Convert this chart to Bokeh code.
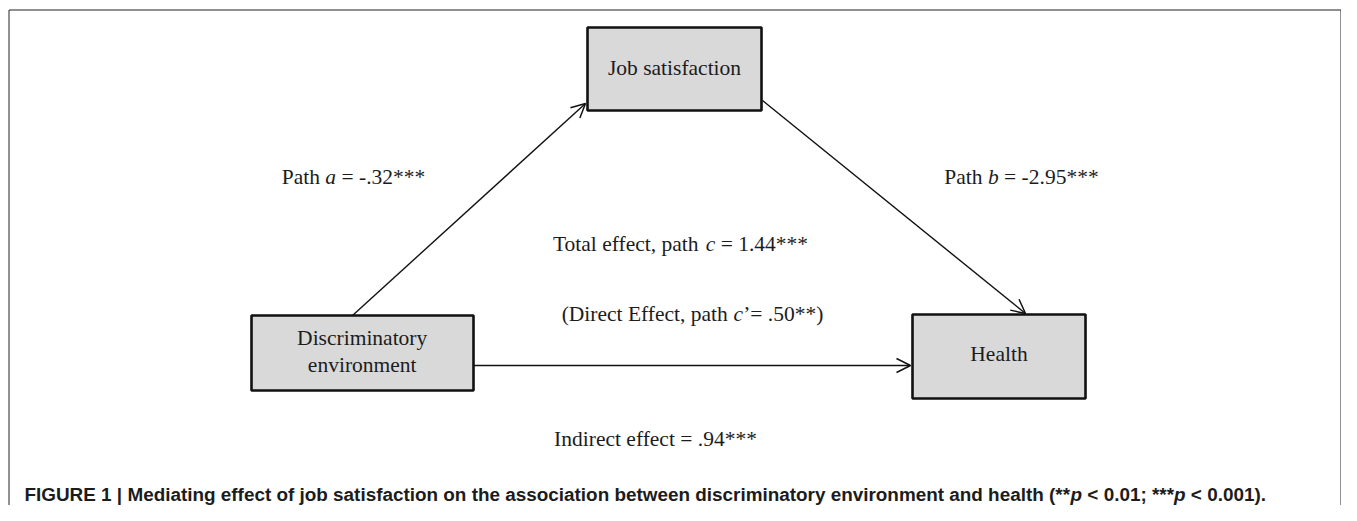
from bokeh.plotting import figure
from bokeh.models import Range1d, Arrow, OpenHead
from bokeh.core.properties import value
from bokeh.embed import file_html
from bokeh.resources import INLINE

# ---------------- data ----------------
node_names = ["Discriminatory environment", "Job satisfaction", "Health"]
node_lines = [["Discriminatory", "environment"], ["Job satisfaction"], ["Health"]]
path_names = ["a", "b", "c", "c"]
path_prefix = ["Path ", "Path ", "Total effect, path ", "(Direct Effect, path "]
path_coefs = [-0.32, -2.95, 1.44, 0.50]
path_stars = ["***", "***", "***", "**"]
indirect_coef = 0.94
indirect_stars = "***"
caption_parts = ["FIGURE 1 | Mediating effect of job satisfaction on the association between discriminatory environment and health (**",
                 "p", " < 0.01; ***", "p", " < 0.001)."]
caption_italic = [False, True, False, True, False]

# ---------------- layout (pixel space of the picture) ----------------
W, H = 1341, 505
TEXT_DY = -8  # renderer places the alphabetic baseline this much lower
box_left = [251, 587, 912]
box_right = [473, 761, 1085]
box_top = [315, 27, 314]
box_bottom = [390, 110, 398]
node_cx = [361.7, 674, 998.5]
node_base = [[345, 372.5], [75], [361]]
arrow_from = [(352, 315), (762, 100), (473, 365)]
arrow_to = [(585, 103), (1025, 313), (910, 365)]
label_cx = [353, 1021, 680, 692]
label_base = [184, 184, 251, 321.5]
indirect_cx, indirect_base = 655, 446.5
caption_x, caption_base = 24, 501.5

SERIF = "Liberation Serif"
SANS = "Liberation Sans"
SERIF_SIZE = 21.5
CAP_SIZE = 18.9
INK = "#1c1c1c"
NB = "\u00a0"

# advance widths (units per 1000 em) for the metric-compatible Liberation fonts
serif_w = {' ': 250, NB: 250, '(': 333, ')': 333, '*': 500, ',': 250, '-': 333, '.': 250, '\u2019': 333,
           '=': 564, 'D': 722, 'E': 611, 'P': 556, 'T': 611, 'I': 333, 'a': 444, 'b': 500,
           'c': 444, 'd': 500, 'e': 444, 'f': 333, 'h': 500, 'i': 278, 'n': 500, 'r': 333,
           't': 278, 'l': 278, 'o': 500, 'p': 500, 'u': 500, 's': 389}
serif_w.update({str(d): 500 for d in range(10)})
serif_iw = {'a': 500, 'b': 500, 'c': 444}
sans_bw = {' ': 278, NB: 278, '(': 333, ')': 333, '*': 389, '.': 278, ';': 333, '<': 584, '|': 280,
           'F': 611, 'I': 278, 'G': 778, 'U': 722, 'R': 722, 'E': 667, 'M': 833, 'a': 556,
           'b': 611, 'c': 556, 'd': 611, 'e': 556, 'f': 333, 'g': 611, 'h': 611, 'i': 278,
           'j': 278, 'l': 278, 'm': 889, 'n': 611, 'o': 611, 'p': 611, 'r': 389, 's': 556,
           't': 333, 'v': 556, 'w': 778, 'y': 556}
sans_bw.update({str(d): 556 for d in range(10)})


def fmt(v):
    s = f"{v:.2f}"
    return s.replace("0.", ".", 1) if abs(v) < 1 else s


def keep_spaces(txt):
    # leading / trailing blanks would be collapsed in SVG text
    lead = len(txt) - len(txt.lstrip(" "))
    trail = len(txt) - len(txt.rstrip(" "))
    core = txt.strip(" ")
    return NB * lead + core + NB * trail


def width(txt, table, size):
    return sum(table.get(ch, 500) for ch in txt) * size / 1000.0


p = figure(width=W, height=H, x_range=Range1d(0, W), y_range=Range1d(H, 0),
           output_backend="svg", toolbar_location=None, x_axis_type=None, y_axis_type=None,
           min_border=0)
p.outline_line_color = None
p.background_fill_color = "white"
p.border_fill_color = "white"


def runs(parts, italics, x_left, base, font, size, table, itable, bold=False):
    x = x_left
    for txt, it in zip(parts, italics):
        txt = keep_spaces(txt)
        style = ("bold " if bold else "") + ("italic" if it else "")
        style = style.strip() or "normal"
        p.text(x=[x], y=[base + TEXT_DY], text=[txt], text_font=value(font),
               text_font_size=f"{size}px", text_font_style=style, text_align="left",
               text_baseline="alphabetic", text_color=INK)
        x += width(txt, itable if it else table, size)


# outer frame (left, top, right)
p.multi_line(xs=[[8.5, 8.5], [8.5, W - 0.5], [W - 0.5, W - 0.5]],
             ys=[[H, 9.5], [9.5, 9.5], [9.5, H]], line_color="#222222", line_width=1)

# boxes
p.quad(left=box_left, right=box_right, top=box_top, bottom=box_bottom,
       fill_color="#d9d9d9", line_color="#111111", line_width=2.6)

# node labels
for lines, cx, bases in zip(node_lines, node_cx, node_base):
    for ln, b in zip(lines, bases):
        p.text(x=[cx], y=[b + TEXT_DY], text=[ln], text_font=value(SERIF),
               text_font_size=f"{SERIF_SIZE}px", text_align="center",
               text_baseline="alphabetic", text_color=INK)

# arrows
for (xs, ys), (xe, ye) in zip(arrow_from, arrow_to):
    p.add_layout(Arrow(end=OpenHead(size=14, line_width=1.5, line_color="#111111"),
                       x_start=xs, y_start=ys, x_end=xe, y_end=ye,
                       line_width=1.4, line_color="#111111"))

# path labels
for i, (pre, nm, coef, st) in enumerate(zip(path_prefix, path_names, path_coefs, path_stars)):
    if i == 3:
        tail = "\u2019= " + fmt(coef) + st + ")"
    else:
        tail = " = " + fmt(coef) + st
    parts = [pre, nm, tail]
    its = [False, True, False]
    total = sum(width(t, serif_iw if it else serif_w, SERIF_SIZE) for t, it in zip(parts, its))
    runs(parts, its, label_cx[i] - total / 2, label_base[i], SERIF, SERIF_SIZE, serif_w, serif_iw)

ind_txt = "Indirect effect = " + fmt(indirect_coef) + indirect_stars
p.text(x=[indirect_cx], y=[indirect_base + TEXT_DY], text=[ind_txt], text_font=value(SERIF),
       text_font_size=f"{SERIF_SIZE}px", text_align="center", text_baseline="alphabetic",
       text_color=INK)

# caption
runs(caption_parts, caption_italic, caption_x, caption_base, SANS, CAP_SIZE, sans_bw, sans_bw, bold=True)

open("out.html", "w").write(file_html(p, INLINE))
